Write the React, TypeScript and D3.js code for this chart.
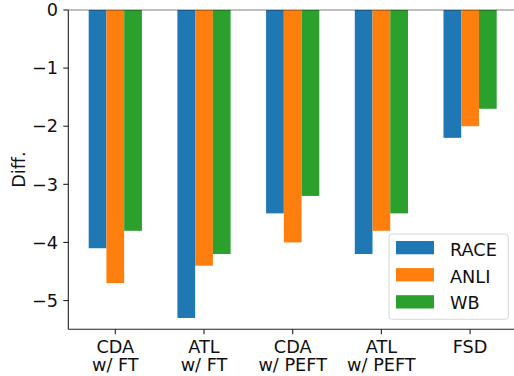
import React from 'react';
import { scaleLinear } from 'd3';

const categories = ['CDA\nw/ FT', 'ATL\nw/ FT', 'CDA\nw/ PEFT', 'ATL\nw/ PEFT', 'FSD'];
const seriesNames = ['RACE', 'ANLI', 'WB'];
const raceValues = [-4.1, -5.3, -3.5, -4.2, -2.2];
const anliValues = [-4.7, -4.4, -4.0, -3.8, -2.0];
const wbValues = [-3.8, -4.2, -3.2, -3.5, -1.7];
const yTicks = [0, -1, -2, -3, -4, -5];

const COLORS = ['#1f77b4', '#ff7f0e', '#2ca02c'];
const FONT = 'DejaVu Sans, sans-serif';
const FS = 17.7;

const W = 514;
const H = 376;
const LEFT = 68.3;
const TOP = 10;
const BOTTOM = 329.3;
const RIGHT = 517.1;

export default function App() {
	const series = [raceValues, anliValues, wbValues];
	const x = scaleLinear().domain([-0.53, 4.53]).range([LEFT, RIGHT]);
	const y = scaleLinear().domain([-5.495, 0]).range([BOTTOM, TOP]);
	const barW = 0.2;
	const fmt = (t: number) => (t < 0 ? `\u2212${Math.abs(t)}` : `${t}`);

	// legend layout
	const lg = { x: 389, y: 234, w: 119.3, h: 85.3 };

	return (
		<svg
			width={W}
			height={H}
			style={{ position: 'absolute', left: 0, top: 0, background: '#fff' }}
			fontFamily={FONT}
		>
			{series.map((vals, s) =>
				vals.map((v, i) => {
					const cx = i + (s - 1) * barW;
					const x0 = x(cx - barW / 2);
					const x1 = x(cx + barW / 2);
					return (
						<rect
							key={`${s}-${i}`}
							x={x0}
							y={y(0)}
							width={x1 - x0}
							height={y(v) - y(0)}
							fill={COLORS[s]}
						/>
					);
				}),
			)}

			{/* spines */}
			<line x1={LEFT} x2={RIGHT} y1={TOP} y2={TOP} stroke="#000" strokeOpacity={0.5} strokeWidth={1.1} />
			<line x1={LEFT} x2={RIGHT} y1={BOTTOM} y2={BOTTOM} stroke="#222" strokeWidth={1.1} />
			<line x1={LEFT} x2={LEFT} y1={TOP} y2={BOTTOM} stroke="#222" strokeWidth={1.1} />

			{/* y axis */}
			{yTicks.map((t) => (
				<g key={t}>
					<line x1={LEFT - 5} x2={LEFT} y1={y(t)} y2={y(t)} stroke="#222" strokeWidth={1.1} />
					<text
						x={LEFT - 10.2}
						y={y(t)}
						dy="0.35em"
						textAnchor="end"
						fontSize={FS}
						fill="#111"
					>
						{fmt(t)}
					</text>
				</g>
			))}
			<text
				transform={`translate(24.5,${(TOP + BOTTOM) / 2}) rotate(-90)`}
				textAnchor="middle"
				fontSize={FS}
				fill="#111"
			>
				Diff.
			</text>

			{/* x axis */}
			{categories.map((c, i) => (
				<g key={c}>
					<line x1={x(i)} x2={x(i)} y1={BOTTOM} y2={BOTTOM + 5} stroke="#222" strokeWidth={1.1} />
					{c.split('\n').map((ln, k) => (
						<text
							key={k}
							x={x(i)}
							y={352.5 + k * 18.8}
							textAnchor="middle"
							fontSize={FS}
							fill="#111"
						>
							{ln}
						</text>
					))}
				</g>
			))}

			{/* legend */}
			<rect
				x={lg.x}
				y={lg.y}
				width={lg.w}
				height={lg.h}
				rx={3}
				fill="#fff"
				fillOpacity={0.8}
				stroke="#d6d6d6"
				strokeWidth={1}
			/>
			{seriesNames.map((name, s) => (
				<g key={name}>
					<rect x={396} y={241 + s * 27.1} width={38} height={13.3} fill={COLORS[s]} />
					<text x={450} y={256 + s * 26.7} fontSize={FS} fill="#111">
						{name}
					</text>
				</g>
			))}
		</svg>
	);
}
